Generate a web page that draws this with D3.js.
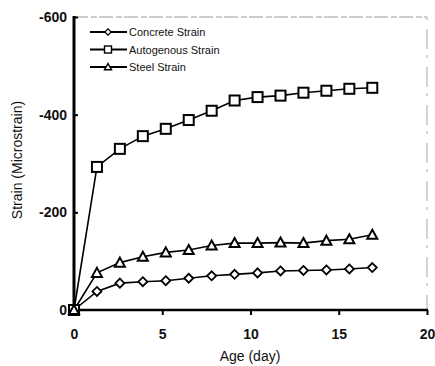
<!DOCTYPE html>
<html><head><meta charset="utf-8">
<script src="https://cdn.jsdelivr.net/npm/d3@7"></script>
<style>body{margin:0;background:#fff}svg{display:block}text{font-family:"Liberation Sans",Arial,sans-serif;fill:#111}</style>
</head><body><svg id="c" width="435" height="366"></svg>
<script>
const ages = [0,1.3,2.6,3.9,5.2,6.5,7.8,9.1,10.4,11.7,13,14.3,15.6,16.9];
const concrete = [0,-38,-55,-58,-60,-65,-70,-73,-76,-80,-81,-82,-84,-87];
const autogenous = [0,-293,-330,-356,-371,-389,-408,-429,-436,-439,-445,-449,-453,-455];
const steel = [0,-76,-97,-109,-118,-123,-132,-137,-137,-138,-137,-142,-145,-154];
const xTicks = [0,5,10,15,20];
const yTicks = [0,-200,-400,-600];
const seriesNames = ["Concrete Strain","Autogenous Strain","Steel Strain"];
const markers = ["diamond","square","triangle"];

const svg = d3.select("#c");
const L=74, R=427, T=17, B=310;
const x = d3.scaleLinear().domain([0,20]).range([L,R]);
const y = d3.scaleLinear().domain([0,-600]).range([B,T]);

// frame (faint top/right)
svg.append("line").attr("x1",L).attr("x2",R).attr("y1",T).attr("y2",T)
  .attr("stroke","#999").attr("stroke-width",1).attr("stroke-dasharray","14,3,6,2");
svg.append("line").attr("x1",R).attr("x2",R).attr("y1",T).attr("y2",B)
  .attr("stroke","#aaa").attr("stroke-width",1).attr("stroke-dasharray","3,9,20,6");

// axes
const xa = svg.append("g").attr("transform",`translate(0,${B})`)
  .call(d3.axisBottom(x).tickValues(xTicks).tickSize(5).tickPadding(14).tickFormat(d3.format("d")));
xa.select(".domain").remove();
xa.selectAll("line").attr("stroke","#000").attr("stroke-width",2);
xa.selectAll("text").style("font-size","14px").style("font-weight","bold").attr("fill","#111");

const ya = svg.append("g").attr("transform",`translate(${L},0)`)
  .call(d3.axisLeft(y).tickValues(yTicks).tickSize(-4).tickPadding(7).tickFormat(d=>d===0?"0":String(d)));
ya.select(".domain").remove();
ya.selectAll("line").attr("stroke","#000").attr("stroke-width",2);
ya.selectAll("text").style("font-size","14px").style("font-weight","bold").attr("fill","#111");

svg.append("line").attr("x1",L).attr("x2",R+1).attr("y1",B).attr("y2",B).attr("stroke","#000").attr("stroke-width",2.5);
svg.append("line").attr("x1",L).attr("x2",L).attr("y1",T-1).attr("y2",B+1).attr("stroke","#000").attr("stroke-width",3);

// titles
svg.append("text").attr("x",250).attr("y",361).attr("text-anchor","middle").style("font-size","14px").text("Age (day)");
svg.append("text").attr("transform","translate(22,160) rotate(-90)").attr("text-anchor","middle").style("font-size","14px").text("Strain (Microstrain)");

function drawMarker(g, type, cx, cy){
  if(type==="square"){
    g.append("rect").attr("x",cx-5).attr("y",cy-5).attr("width",10).attr("height",10)
      .attr("fill","#fff").attr("stroke","#000").attr("stroke-width",2);
  } else if(type==="triangle"){
    g.append("path").attr("d",`M${cx},${cy-5}L${cx+5},${cy+4}L${cx-5},${cy+4}Z`)
      .attr("fill","#fff").attr("stroke","#000").attr("stroke-width",2);
  } else {
    g.append("path").attr("d",`M${cx},${cy-4.5}L${cx+4.5},${cy}L${cx},${cy+4.5}L${cx-4.5},${cy}Z`)
      .attr("fill","#fff").attr("stroke","#000").attr("stroke-width",1.8);
  }
}

const data = [concrete, autogenous, steel];
const line = d3.line().x((d,i)=>x(ages[i])).y(d=>y(d));
data.forEach((vals,si)=>{
  svg.append("path").datum(vals).attr("d",line).attr("fill","none").attr("stroke","#000").attr("stroke-width",1.6);
});
data.forEach((vals,si)=>{
  const g = svg.append("g");
  vals.forEach((v,i)=>drawMarker(g, markers[si], x(ages[i]), y(v)));
});

// legend
seriesNames.forEach((name,i)=>{
  const ly = 32 + i*17.5;
  svg.append("line").attr("x1",90).attr("x2",127).attr("y1",ly).attr("y2",ly).attr("stroke","#000").attr("stroke-width",2);
  const g = svg.append("g");
  const sc = 0.7;
  g.attr("transform",`translate(108,${ly}) scale(${sc}) translate(-108,${-ly})`);
  drawMarker(g, markers[i], 108, ly);
  svg.append("text").attr("x",129).attr("y",ly+4).style("font-size","11px").text(name);
});
</script></body></html>
